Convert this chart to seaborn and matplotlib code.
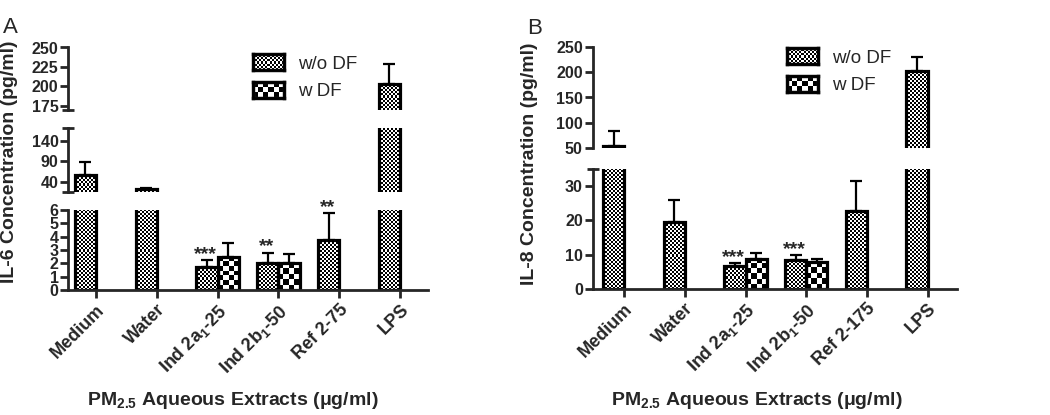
import numpy as np
import pandas as pd
import matplotlib
matplotlib.use("Agg")
import matplotlib.pyplot as plt
import matplotlib.patches as mpatches
import seaborn as sns

# --- values ---
groups = ["w/o DF", "w DF"]

il6_treatments = ["Medium", "Water", "Ind 2a$_1$-25", "Ind 2b$_1$-50", "Ref 2-75", "LPS"]
il6_wo = [57, 22, 1.7, 2.05, 3.75, 203]
il6_wo_sem = [30, 3, 0.55, 0.75, 2.0, 26]
il6_w = [np.nan, np.nan, 2.5, 2.0, np.nan, np.nan]
il6_w_sem = [np.nan, np.nan, 1.0, 0.72, np.nan, np.nan]
il6_stars = ["", "", "***", "**", "**", ""]

il8_treatments = ["Medium", "Water", "Ind 2a$_1$-25", "Ind 2b$_1$-50", "Ref 2-175", "LPS"]
il8_wo = [55, 19.5, 6.6, 8.5, 22.8, 202]
il8_wo_sem = [30, 6.4, 0.9, 1.3, 8.7, 28]
il8_w = [np.nan, np.nan, 8.8, 7.8, np.nan, np.nan]
il8_w_sem = [np.nan, np.nan, 1.7, 0.9, np.nan, np.nan]
il8_stars = ["", "", "***", "***", "", ""]

# broken y axes: (ymin, ymax, ticks) per segment, bottom segment first
il6_segments = [(0, 6, [0, 1, 2, 3, 4, 5, 6]),
                (15.6, 170, [40, 90, 140]),
                (169, 250, [175, 200, 225, 250])]
il8_segments = [(0, 35, [0, 10, 20, 30]),
                (50, 250, [50, 100, 150, 200, 250])]

sns.set_style("ticks")
plt.rcParams["font.family"] = ["Liberation Sans", "DejaVu Sans"]
plt.rcParams["font.weight"] = "bold"
plt.rcParams["mathtext.fontset"] = "custom"
plt.rcParams["mathtext.rm"] = "Liberation Sans:bold"
plt.rcParams["mathtext.bf"] = "Liberation Sans:bold"
plt.rcParams["mathtext.it"] = "Liberation Sans:bold"
plt.rcParams["mathtext.default"] = "rm"

W, H = 1050, 415
fig = plt.figure(figsize=(W / 100, H / 100), dpi=100)
fig.patch.set_facecolor("white")

CELL = {"w/o DF": 2, "w DF": 5}


def px_axes(left, right, top, bottom):
    """axes placed by pixel box (y measured from the top)"""
    return fig.add_axes([left / W, 1 - bottom / H, (right - left) / W, (bottom - top) / H])


def checker(nrows, ncols):
    return np.indices((max(1, nrows), max(1, ncols))).sum(axis=0) % 2


def fill_bar(ax, bar, cell):
    lo, hi = ax.get_ylim()
    x0, x1 = bar.get_x(), bar.get_x() + bar.get_width()
    y0, y1 = max(bar.get_y(), lo), min(bar.get_y() + bar.get_height(), hi)
    if y1 <= y0:
        return
    (a, b), (c, d) = ax.transData.transform([(x0, y0), (x1, y1)])
    img = checker(round((d - b) / cell), round((c - a) / cell))
    ax.imshow(img, cmap="gray", vmin=0, vmax=1, extent=(x0, x1, y0, y1),
              aspect="auto", interpolation="nearest", zorder=bar.get_zorder() - 0.1)


def draw_panel(treatments, wo, wo_sem, w, w_sem, stars, segments, seg_px, left, right, xlim):
    df = pd.DataFrame({
        "treatment": treatments * 2,
        "group": [groups[0]] * len(treatments) + [groups[1]] * len(treatments),
        "value": wo + w,
    }).dropna()
    sems = {groups[0]: wo_sem, groups[1]: w_sem}
    values = {groups[0]: wo, groups[1]: w}
    axes = []
    for i, ((lo, hi, ticks), (top, bottom)) in enumerate(zip(segments, seg_px)):
        ax = px_axes(left, right, top, bottom)
        sns.barplot(data=df, x="treatment", y="value", hue="group", order=treatments,
                    hue_order=groups, palette=["white", "white"], edgecolor="black",
                    linewidth=2.3, width=0.7, errorbar=None, legend=False, saturation=1, ax=ax)
        ax.set_xlim(xlim)
        ax.set_ylim(lo, hi)
        ax.set_xlabel("")
        ax.set_ylabel("")
        ax.set_yticks(ticks)
        ax.set_yticks([lo, hi], minor=True)
        ax.tick_params(axis="y", which="major", length=6, width=2, labelsize=11.5, pad=1)
        ax.tick_params(axis="y", which="minor", length=8, width=2, direction="inout")
        ax.spines[["top", "right"]].set_visible(False)
        ax.spines["left"].set_linewidth(2)
        ax.patch.set_alpha(0)
        if i == 0:
            ax.spines["bottom"].set_linewidth(2)
            ax.tick_params(axis="x", length=6, width=2, labelsize=13, pad=2)
            for lab in ax.get_xticklabels():
                lab.set_rotation(45)
                lab.set_ha("right")
                lab.set_rotation_mode("anchor")
        else:
            ax.spines["bottom"].set_visible(False)
            ax.tick_params(axis="x", bottom=False, labelbottom=False)

        for cont, grp in zip(ax.containers, groups):
            for bar in cont:
                k = int(round(bar.get_x() + bar.get_width() / 2))
                xc = bar.get_x() + bar.get_width() / 2
                val, err = values[grp][k], sems[grp][k]
                bar.set_facecolor("none")
                fill_bar(ax, bar, CELL[grp])
                ax.errorbar(xc, val, yerr=[[0], [err]], fmt="none", ecolor="black",
                            elinewidth=1.6, capsize=4, capthick=1.6, zorder=3)
                if grp == groups[0] and stars[k] and lo <= val + err <= hi:
                    ax.annotate(stars[k], (xc, val + err), xytext=(-1, -2),
                                textcoords="offset points", ha="center", va="bottom",
                                fontsize=14, fontweight="bold")
        axes.append(ax)
    return axes


axes_a = draw_panel(il6_treatments, il6_wo, il6_wo_sem, il6_w, il6_w_sem, il6_stars,
                    il6_segments, [(210, 290), (128.3, 191.7), (47.5, 110.5)],
                    68.3, 428, (-0.456, 5.46))
axes_b = draw_panel(il8_treatments, il8_wo, il8_wo_sem, il8_w, il8_w_sem, il8_stars,
                    il8_segments, [(169, 289), (46.7, 148.3)],
                    592.5, 956.7, (-0.524, 5.48))

# axis titles and panel letters
fig.text(10 / W, 1 - 162 / H, "IL-6 Concentration (pg/ml)", rotation=90,
         ha="center", va="center", fontsize=14, fontweight="bold")
fig.text(530 / W, 1 - 164 / H, "IL-8 Concentration (pg/ml)", rotation=90,
         ha="center", va="center", fontsize=14, fontweight="bold")
fig.text(233 / W, 1 - 405 / H, "PM$_{2.5}$ Aqueous Extracts (\u03bcg/ml)",
         ha="center", va="baseline", fontsize=14, fontweight="bold")
fig.text(757 / W, 1 - 405 / H, "PM$_{2.5}$ Aqueous Extracts (\u03bcg/ml)",
         ha="center", va="baseline", fontsize=14, fontweight="bold")
fig.text(3 / W, 1 - 33 / H, "A", fontsize=16, fontweight="normal", va="baseline")
fig.text(527 / W, 1 - 34 / H, "B", fontsize=16, fontweight="normal", va="baseline")

# legends
legends = []
for (lx, ly) in [(253, 54), (787, 48)]:
    handles = [mpatches.Patch(facecolor="none", edgecolor="black", lw=2, label=g) for g in groups]
    leg = fig.legend(handles=handles, loc="upper left", bbox_to_anchor=(lx / W, 1 - ly / H),
                     frameon=False, prop={"size": 13.5, "weight": "normal"},
                     handlelength=1.65, handleheight=0.95, handletextpad=0.75,
                     labelspacing=0.5, borderpad=0, borderaxespad=0)
    legends.append(leg)

fig.canvas.draw()
renderer = fig.canvas.get_renderer()
for leg in legends:
    for patch, grp in zip(leg.get_patches(), groups):
        bb = patch.get_window_extent(renderer)
        cax = fig.add_axes([bb.x0 / W, bb.y0 / H, bb.width / W, bb.height / H])
        cax.imshow(checker(round(bb.height / CELL[grp]), round(bb.width / CELL[grp])),
                   cmap="gray", vmin=0, vmax=1, aspect="auto", interpolation="nearest")
        cax.set_xticks([])
        cax.set_yticks([])
        for sp in cax.spines.values():
            sp.set_linewidth(2.5)

fig.savefig("out.png", dpi=100)
